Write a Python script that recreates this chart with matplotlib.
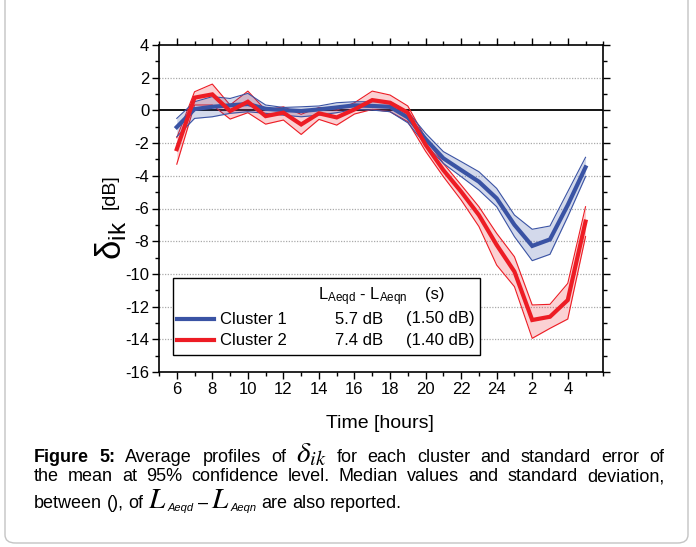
import matplotlib
matplotlib.use("Agg")
import matplotlib.pyplot as plt
from matplotlib.ticker import FixedLocator, MultipleLocator
from matplotlib.patches import FancyBboxPatch, Rectangle

# ---------------- data ----------------
hours = list(range(6, 30))
xtick_pos = [6, 8, 10, 12, 14, 16, 18, 20, 22, 24, 26, 28]
xtick_labels = ["6", "8", "10", "12", "14", "16", "18", "20", "22", "24", "2", "4"]

c1_mean = [-1.02, 0.08, 0.22, 0.31, 0.39, 0.10, 0.02, -0.04, 0.06, 0.18, 0.31, 0.27,
           0.22, -0.43, -1.75, -2.93, -3.65, -4.36, -5.38, -7.00, -8.29, -7.89, -5.79, -3.48]
c1_upper = [-0.49, 0.53, 0.84, 0.73, 1.04, 0.33, 0.18, 0.22, 0.27, 0.47, 0.53, 0.53,
            0.53, -0.08, -1.40, -2.52, -3.13, -3.75, -4.77, -6.40, -7.27, -7.07, -4.97, -2.87]
c1_lower = [-1.61, -0.49, -0.39, -0.18, -0.08, -0.18, -0.29, -0.39, -0.29, -0.14, 0.06, 0.02,
            -0.08, -0.76, -2.10, -3.24, -4.05, -4.87, -5.89, -7.72, -9.19, -8.80, -6.50, -4.05]

c2_mean = [-2.37, 0.78, 0.98, -0.04, 0.53, -0.35, -0.14, -0.86, -0.18, -0.43, 0.06, 0.63,
           0.47, -0.14, -2.10, -3.65, -4.97, -6.40, -8.23, -9.86, -12.82, -12.62, -11.60, -6.80]
c2_upper = [-1.67, 1.14, 1.61, 0.33, 1.18, 0.02, 0.22, -0.24, 0.18, 0.02, 0.47, 1.18,
            0.94, 0.27, -1.70, -3.24, -4.56, -5.89, -7.52, -8.95, -11.90, -11.86, -10.58, -5.89]
c2_lower = [-3.29, 0.33, 0.33, -0.53, -0.14, -0.84, -0.59, -1.47, -0.55, -0.90, -0.22, 0.06,
            -0.08, -0.69, -2.50, -4.05, -5.48, -7.10, -9.46, -10.78, -13.94, -13.33, -12.76, -7.72]

cluster_names = ["Cluster 1", "Cluster 2"]
median_diff = ["5.7 dB", "7.4 dB"]
std_diff = ["(1.50 dB)", "(1.40 dB)"]

# ---------------- style ----------------
plt.rcParams["font.family"] = ["Liberation Sans", "DejaVu Sans"]
plt.rcParams["mathtext.fontset"] = "custom"
plt.rcParams["mathtext.rm"] = "Liberation Sans"
plt.rcParams["mathtext.it"] = "Liberation Sans:italic"
plt.rcParams["mathtext.bf"] = "Liberation Sans:bold"
plt.rcParams["axes.unicode_minus"] = False

BLUE = "#3A53A4"
RED = "#ED1C24"

W, H = 696, 547
fig = plt.figure(figsize=(W / 100, H / 100), dpi=100)

def fx(px):
    return px / W

def fy(py):
    return 1 - py / H

# outer rounded border
border = FancyBboxPatch((fx(5), fy(543)), fx(683), fy(0) - fy(543) + 0.05,
                        boxstyle="round,pad=0,rounding_size=0.015",
                        transform=fig.transFigure, facecolor="none",
                        edgecolor="#c4c4c4", linewidth=1.0, clip_on=False)
fig.patches.append(border)

ax = fig.add_axes([fx(159), fy(372), fx(603.3) - fx(159), fy(45) - fy(372)])

# bands
ax.fill_between(hours, c2_lower, c2_upper, color=RED, alpha=0.2, linewidth=0, zorder=2)
ax.plot(hours, c2_upper, color=RED, lw=0.8, zorder=3)
ax.plot(hours, c2_lower, color=RED, lw=0.8, zorder=3)
ax.fill_between(hours, c1_lower, c1_upper, color=BLUE, alpha=0.22, linewidth=0, zorder=4)
ax.plot(hours, c1_upper, color=BLUE, lw=0.8, zorder=5)
ax.plot(hours, c1_lower, color=BLUE, lw=0.8, zorder=5)

l1, = ax.plot(hours, c1_mean, color=BLUE, lw=3, zorder=6, solid_joinstyle="miter")
l2, = ax.plot(hours, c2_mean, color=RED, lw=3, zorder=7, solid_joinstyle="miter")

ax.axhline(0, color="black", lw=1.3, zorder=1)

ax.set_xlim(5, 30)
ax.set_ylim(-16, 4)
ax.xaxis.set_major_locator(FixedLocator(xtick_pos))
ax.set_xticklabels(xtick_labels)
ax.xaxis.set_minor_locator(MultipleLocator(1))
ax.yaxis.set_major_locator(MultipleLocator(2))
ax.yaxis.set_minor_locator(MultipleLocator(1))

for yv in range(-14, 4, 2):
    if yv != 0:
        ax.axhline(yv, color="#aaaaaa", lw=0.9, ls=(0, (1, 1.2)), zorder=0.5)

for s in ax.spines.values():
    s.set_linewidth(1.2)
ax.tick_params(which="both", direction="out", top=True, right=True, width=1.0,
               labelsize=12, pad=2)
ax.tick_params(which="major", length=5)
ax.tick_params(which="minor", length=3)

# axis labels
fig.text(fx(380), fy(428), "Time [hours]", ha="center", va="baseline", fontsize=14)
fig.text(fx(111), fy(240), r"$\mathrm{δ}_{\mathrm{ik}}$", rotation=90, ha="center",
         va="center", fontsize=25)
fig.text(fx(110), fy(192), "[dB]", rotation=90, ha="center", va="center", fontsize=14)

# legend box
ax_w = 603.3 - 159
ax_h = 372 - 45

def axx(px):
    return (px - 159) / ax_w

def axy(py):
    return (372 - py) / ax_h

ax.add_patch(Rectangle((axx(172.7), axy(355)), axx(480) - axx(172.7), axy(278.3) - axy(355),
                       transform=ax.transAxes, facecolor="white", edgecolor="black",
                       lw=1.0, zorder=10))
leg = ax.legend([l1, l2], cluster_names, loc="upper left",
                bbox_to_anchor=(axx(177), axy(312.5)), frameon=False, fontsize=12,
                handlelength=2.2, handletextpad=0.4, labelspacing=0.35,
                borderaxespad=0, borderpad=0)
leg.set_zorder(11)
ax.text(axx(318), axy(297), r"$\mathrm{L_{Aeqd}}$ - $\mathrm{L_{Aeqn}}$", transform=ax.transAxes,
        fontsize=12, ha="left", va="center", zorder=12)
ax.text(axx(435), axy(294), "(s)", transform=ax.transAxes, fontsize=12, ha="center",
        va="center", zorder=12)
row_y = [319, 340.7]
for i in range(2):
    ax.text(axx(383), axy(row_y[i]), median_diff[i], transform=ax.transAxes, fontsize=12,
            ha="right", va="center", zorder=12)
    ax.text(axx(475), axy(row_y[i]), std_diff[i], transform=ax.transAxes, fontsize=12,
            ha="right", va="center", zorder=12)

# ---------------- caption ----------------
renderer = fig.canvas.get_renderer()
CAP = 13

def place_line(segments, y_px, x0, x1=None, gap_nat=4.5):
    items = []
    for txt, props in segments:
        p = dict(props)
        is_math = p.pop("math", False)
        dy = p.pop("dy", 0)
        g = p.pop("gap", None)
        words = [txt] if is_math else txt.split()
        for k, w in enumerate(words):
            t = fig.text(0, fy(y_px + dy), w, va="baseline", ha="left", **p)
            items.append((t, g if k == 0 else None))
    widths = [t.get_window_extent(renderer).width for t, _ in items]
    if x1 is None:
        gap = gap_nat
    else:
        gap = (x1 - x0 - sum(widths)) / (len(items) - 1)
    x = x0
    for i, ((t, g), w) in enumerate(zip(items, widths)):
        if i > 0:
            x += g if g is not None else gap
        t.set_x(fx(x))
        x += w

base = dict(fontsize=CAP)
bold = dict(fontsize=CAP, fontweight="bold")
mathp = dict(fontsize=21, math_fontfamily="stix", math=True)

place_line([("Figure 5:", bold), ("Average profiles of", base),
            (r"$\delta_{ik}$", mathp),
            ("for each cluster and standard error of", base)], 462, 34, 664)
place_line([("the mean at 95% confidence level. Median values and standard deviation,", base)],
           481, 34, 664)

Lp = dict(fontsize=21, math_fontfamily="stix", math=True, gap=5)
subp = dict(fontsize=8, style="italic", dy=3, gap=1)
place_line([("between (), of", base),
            (r"$L$", Lp), ("Aeqd", subp),
            ("–", dict(fontsize=CAP, gap=4)),
            (r"$L$", dict(fontsize=21, math_fontfamily="stix", math=True, gap=3)),
            ("Aeqn", subp),
            ("are also reported.", dict(fontsize=CAP, gap=5))], 508, 34)

fig.savefig("out.png", dpi=100)
